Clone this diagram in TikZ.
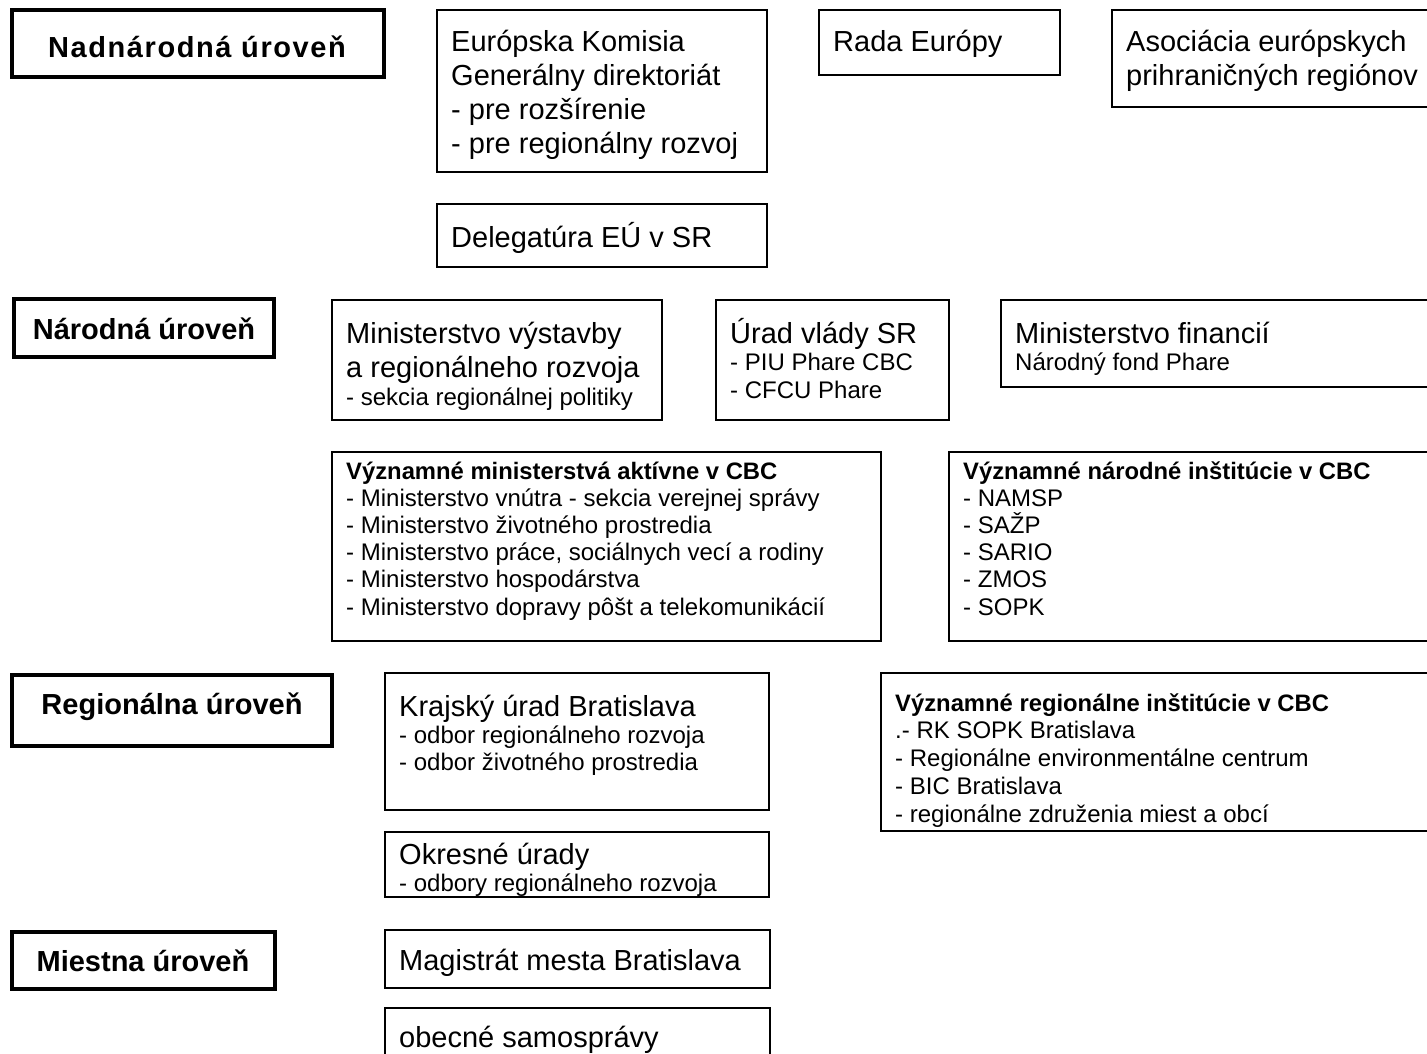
\documentclass[tikz,border=0pt]{standalone}
\usepackage{fontspec}
\setmainfont{Liberation Sans}

\tikzset{
    box/.style={draw, line width=1.5pt},
    levelbox/.style={draw, line width=4pt},
    big/.style={anchor=base west, inner sep=0pt, font=\fontsize{29}{34}\selectfont},
    small/.style={anchor=base west, inner sep=0pt, font=\fontsize{24}{27}\selectfont},
    head/.style={anchor=base west, inner sep=0pt, font=\fontsize{23.8}{27}\selectfont\bfseries},
    level/.style={anchor=base, inner sep=0pt, font=\fontsize{29}{34}\selectfont\bfseries}
}

\begin{document}
\begin{tikzpicture}[x=1pt, y=-1pt]

    \useasboundingbox (0,0) rectangle (1427,1054);
    \clip (0,0) rectangle (1427,1054);

    % levels
    \draw[levelbox] (12,10) rectangle (384,77);
    \node[level] (nadnar) at (197,58) {\addfontfeature{LetterSpace=5.5}Nadnárodná úroveň};
    \draw[levelbox] (14,299) rectangle (274,357);
    \node[level] (narod) at (144,339) {Národná úroveň};
    \draw[levelbox] (12,675) rectangle (332,746);
    \node[level] (region) at (172,714) {Regionálna úroveň};
    \draw[levelbox] (12,932) rectangle (275,989);
    \node[level] (miest) at (143,971) {Miestna úroveň};

    % nadnarodna
    \draw[box] (437,10) rectangle (767,172);
    \foreach \t [count=\i from 0] in {Európska Komisia, Generálny direktoriát, - pre rozšírenie, - pre regionálny rozvoj}
        \node[big] (kom-\i) at (451,{52+33.7*\i}) {\t};
    \draw[box] (819,10) rectangle (1060,75);
    \node[big] (rada) at (833,52) {Rada Európy};
    \draw[box] (1112,10) rectangle (1440,107);
    \node[big] (aebr-0) at (1126,52) {Asociácia európskych};
    \node[big] (aebr-1) at (1126,86) {prihraničných regiónov};
    \draw[box] (437,204) rectangle (767,267);
    \node[big] (deleg) at (451,247) {Delegatúra EÚ v SR};

    % narodna
    \draw[box] (332,300) rectangle (662,420);
    \node[big] (mvrr-0) at (346,343) {Ministerstvo výstavby};
    \node[big] (mvrr-1) at (346,377) {a regionálneho rozvoja};
    \node[small] (mvrr-2) at (346,405) {- sekcia regionálnej politiky};
    \draw[box] (716,300) rectangle (949,420);
    \node[big] (uvsr) at (730,343) {Úrad vlády SR};
    \node[small] (uvsr-1) at (730,370) {- PIU Phare CBC};
    \node[small] (uvsr-2) at (730,398) {- CFCU Phare};
    \draw[box] (1001,300) rectangle (1440,387);
    \node[big] (mf) at (1015,343) {Ministerstvo financií};
    \node[small] (mf-1) at (1015,370) {Národný fond Phare};

    \draw[box] (332,452) rectangle (881,641);
    \node[head] (min-0) at (346,479) {Významné ministerstvá aktívne v CBC};
    \foreach \t [count=\i] in {- Ministerstvo vnútra - sekcia verejnej správy, - Ministerstvo životného prostredia, {- Ministerstvo práce, sociálnych vecí a rodiny}, - Ministerstvo hospodárstva, - Ministerstvo dopravy pôšt a telekomunikácií}
        \node[small] (min-\i) at (346,{479+27.2*\i}) {\t};
    \draw[box] (949,452) rectangle (1440,641);
    \node[head] (inst-0) at (963,479) {Významné národné inštitúcie v CBC};
    \foreach \t [count=\i] in {- NAMSP, - SAŽP, - SARIO, - ZMOS, - SOPK}
        \node[small] (inst-\i) at (963,{479+27.2*\i}) {\t};

    % regionalna
    \draw[box] (385,673) rectangle (769,810);
    \node[big] (kurad) at (399,716) {Krajský úrad Bratislava};
    \node[small] (kurad-1) at (399,743) {- odbor regionálneho rozvoja};
    \node[small] (kurad-2) at (399,770) {- odbor životného prostredia};
    \draw[box] (881,673) rectangle (1440,831);
    \node[head] (rinst-0) at (895,711) {Významné regionálne inštitúcie v CBC};
    \foreach \t [count=\i] in {.- RK SOPK Bratislava, - Regionálne environmentálne centrum, - BIC Bratislava, - regionálne združenia miest a obcí}
        \node[small] (rinst-\i) at (895,{711+27.8*\i}) {\t};
    \draw[box] (385,832) rectangle (769,897);
    \node[big] (okres) at (399,864) {Okresné úrady};
    \node[small] (okres-1) at (399,891) {- odbory regionálneho rozvoja};

    % miestna
    \draw[box] (385,930) rectangle (770,988);
    \node[big] (magis) at (399,970) {Magistrát mesta Bratislava};
    \draw[box] (385,1008) rectangle (770,1070);
    \node[big] (obce) at (399,1047) {obecné samosprávy};

\end{tikzpicture}
\end{document}
